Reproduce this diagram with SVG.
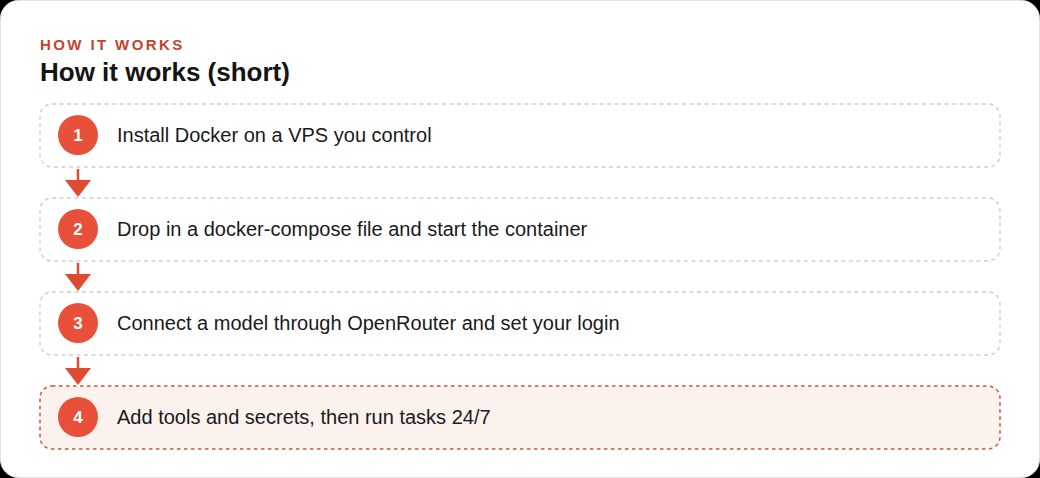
<svg xmlns="http://www.w3.org/2000/svg" width="1040" height="478" viewBox="0 0 1040 478">
<style>
.eyebrow{font-family:"Liberation Sans",Arial,sans-serif;font-size:15px;font-weight:700;letter-spacing:2.4px;fill:#c4432d}
.title{font-family:"Liberation Sans",Arial,sans-serif;font-size:26px;font-weight:700;fill:#141414}
.box{fill:#ffffff;stroke:#cfcfcf;stroke-width:1.5;stroke-dasharray:4 3.5}
.box.hl{fill:#fbf1ed;stroke:#c9563f;stroke-dasharray:3.5 3.5}
.dot{fill:#e8503a}
.num{font-family:"Liberation Sans",Arial,sans-serif;font-size:17px;font-weight:700;fill:#ffffff;text-anchor:middle}
.lbl{font-family:"Liberation Sans",Arial,sans-serif;font-size:20px;fill:#1a1a1a}
.conn line{stroke:#e04a33;stroke-width:2.5}
.conn polygon{fill:#e04a33}
</style>
<rect x="0" y="0" width="1040" height="478" fill="#000"/>
<rect x="0.5" y="0.5" width="1039" height="477" rx="18" fill="#ffffff" stroke="#e4e2da"/>
<text class="eyebrow" x="40" y="50">HOW IT WORKS</text>
<text class="title" x="40" y="81">How it works (short)</text>
<g class="conn">
<line x1="78" y1="169" x2="78" y2="182"/><polygon points="65,180 91,180 78,197"/>
<line x1="78" y1="263" x2="78" y2="276"/><polygon points="65,274 91,274 78,291"/>
<line x1="78" y1="357" x2="78" y2="370"/><polygon points="65,368 91,368 78,385"/>
</g>
<g id="step1">
<rect class="box" x="40" y="104" width="960" height="63" rx="12"/>
<circle class="dot" cx="78" cy="135" r="20"/>
<text class="num" x="78" y="141">1</text>
<text class="lbl" x="117" y="142">Install Docker on a VPS you control</text>
</g>
<g id="step2">
<rect class="box" x="40" y="198" width="960" height="63" rx="12"/>
<circle class="dot" cx="78" cy="229" r="20"/>
<text class="num" x="78" y="235">2</text>
<text class="lbl" x="117" y="236">Drop in a docker-compose file and start the container</text>
</g>
<g id="step3">
<rect class="box" x="40" y="292" width="960" height="63" rx="12"/>
<circle class="dot" cx="78" cy="323" r="20"/>
<text class="num" x="78" y="329">3</text>
<text class="lbl" x="117" y="330">Connect a model through OpenRouter and set your login</text>
</g>
<g id="step4">
<rect class="box hl" x="40" y="386" width="960" height="63" rx="12"/>
<circle class="dot" cx="78" cy="417" r="20"/>
<text class="num" x="78" y="423">4</text>
<text class="lbl" x="117" y="424">Add tools and secrets, then run tasks 24/7</text>
</g>
</svg>
